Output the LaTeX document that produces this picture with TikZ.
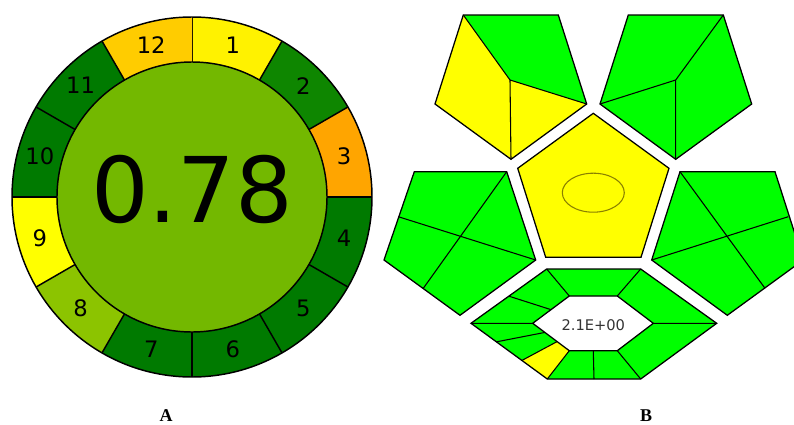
\documentclass[tikz,border=0pt]{standalone}
\usepackage{fontspec}
\setmainfont{Liberation Serif}
\newfontfamily\dejavu{DejaVu Sans}
\usetikzlibrary{calc}
\definecolor{segyel}{HTML}{FFF200}
\definecolor{segdkA}{HTML}{0E8600}
\definecolor{segdk}{HTML}{007A00}
\definecolor{segorg}{HTML}{FFA500}
\definecolor{seglime}{HTML}{8CC400}
\definecolor{segyel2}{HTML}{FFFF00}
\definecolor{seggold}{HTML}{FFCC00}
\definecolor{centgreen}{HTML}{73B800}
\definecolor{gapgreen}{HTML}{00FF00}
\definecolor{gapyel}{HTML}{FFFF00}
\definecolor{ellcol}{HTML}{8A8000}
\tikzset{
  segline/.style={draw=black,line width=1.1pt},
  seglabel/.style={font=\dejavu\fontsize{17}{17}\selectfont,inner sep=0pt},
  gapi/.style={draw=black,line width=0.95pt,line join=miter},
  gapidiv/.style={draw=black,line width=0.8pt},
  panel/.style={font=\bfseries\fontsize{13.5}{13.5}\selectfont,inner sep=0pt}
}
\begin{document}
\begin{tikzpicture}[x=0.75pt,y=-0.75pt]
\useasboundingbox (0,0) rectangle (794,425);
\begin{scope}
\clip (0,0) rectangle (794,425);
% ---------- Part A ----------
\coordinate (C) at (192,197);
\foreach \k/\col in {1/segyel,2/segdkA,3/segorg,4/segdk,5/segdk,6/segdk,7/segdk,8/seglime,9/segyel2,10/segdk,11/segdk,12/seggold}{
  \pgfmathsetmacro{\aone}{-90+30*(\k-1)}
  \pgfmathsetmacro{\atwo}{-90+30*\k}
  \pgfmathsetmacro{\amid}{-90+30*\k-15}
  \fill[\col] ($(C)+(\aone:180)$) arc[start angle=\aone,end angle=\atwo,radius=180]
     -- ($(C)+(\atwo:135)$) arc[start angle=\atwo,end angle=\aone,radius=135] -- cycle;
  \draw[segline] ($(C)+(\aone:135)$) -- ($(C)+(\aone:180)$);
  \node[seglabel] (lab\k) at ($(C)+(\amid:157.5)$) {\k};
}
\draw[segline] (C) circle[radius=180];
\draw[segline,fill=centgreen] (C) circle[radius=135];
\node[font=\dejavu\fontsize{68}{68}\selectfont,inner sep=0pt] (score) at (192,189) {0.78};

% ---------- Part B ----------
% top-left pentagon
\coordinate (a1) at (463.3,15); \coordinate (a2) at (558.3,15);
\coordinate (a3) at (586.7,104); \coordinate (a4) at (511,159.3);
\coordinate (a5) at (435,104); \coordinate (ai) at (510,80);
\fill[gapgreen] (a1) -- (a2) -- (a3) -- (ai) -- cycle;
\fill[gapyel] (a1) -- (ai) -- (a4) -- (a5) -- cycle;
\fill[gapyel] (ai) -- (a3) -- (a4) -- cycle;
\draw[gapidiv] (a1) -- (ai) -- (a3) (ai) -- (a4);
\draw[gapi] (a1) -- (a2) -- (a3) -- (a4) -- (a5) -- cycle;
% top-right pentagon
\coordinate (b1) at (628.3,15); \coordinate (b2) at (723.3,15);
\coordinate (b3) at (751.7,104); \coordinate (b4) at (675.7,159.3);
\coordinate (b5) at (600,104); \coordinate (bi) at (675.7,80);
\fill[gapgreen] (b1) -- (b2) -- (b3) -- (b4) -- (b5) -- cycle;
\draw[gapidiv] (b2) -- (bi) -- (b5) (bi) -- (b4);
\draw[gapi] (b1) -- (b2) -- (b3) -- (b4) -- (b5) -- cycle;
% centre pentagon
\coordinate (c1) at (593.3,113.3); \coordinate (c2) at (669,168.3);
\coordinate (c3) at (641,257.3); \coordinate (c4) at (545.7,257.3);
\coordinate (c5) at (517.7,168.3);
\draw[gapi,fill=gapyel] (c1) -- (c2) -- (c3) -- (c4) -- (c5) -- cycle;
\draw[ellcol,line width=0.8pt] (593.3,192.7) ellipse[x radius=31,y radius=19.5];
% left-middle pentagon
\coordinate (d1) at (414.3,171.7); \coordinate (d2) at (506.7,171.7);
\coordinate (d3) at (535.7,260); \coordinate (d4) at (460,315.3);
\coordinate (d5) at (384,260);
\fill[gapgreen] (d1) -- (d2) -- (d3) -- (d4) -- (d5) -- cycle;
\draw[gapidiv] (d2) -- (423.3,288.3) (398.3,216.7) -- (d3);
\draw[gapi] (d1) -- (d2) -- (d3) -- (d4) -- (d5) -- cycle;
% right-middle pentagon
\coordinate (e1) at (680,171.7); \coordinate (e2) at (775,171.7);
\coordinate (e3) at (803.3,260); \coordinate (e4) at (727.3,315.3);
\coordinate (e5) at (651.7,260);
\fill[gapgreen] (e1) -- (e2) -- (e3) -- (e4) -- (e5) -- cycle;
\draw[gapidiv] (e1) -- (765,288.3) (e5) -- (788.3,216.7);
\draw[gapi] (e1) -- (e2) -- (e3) -- (e4) -- (e5) -- cycle;
% bottom hexagon
\coordinate (o1) at (546.7,269); \coordinate (o2) at (640.7,269);
\coordinate (o3) at (716.7,323.3); \coordinate (o4) at (640.7,379);
\coordinate (o5) at (547.3,379); \coordinate (o6) at (471,323.3);
\coordinate (i1) at (569.3,296); \coordinate (i2) at (617.3,296);
\coordinate (i3) at (653.3,323.3); \coordinate (i4) at (617.3,350.7);
\coordinate (i5) at (569.3,350.7); \coordinate (i6) at (532.7,323.3);
\fill[gapgreen,even odd rule] (o1) -- (o2) -- (o3) -- (o4) -- (o5) -- (o6) -- cycle
   (i1) -- (i2) -- (i3) -- (i4) -- (i5) -- (i6) -- cycle;
\fill[gapyel] ($(o6)!0.667!(o5)$) -- ($(i6)!0.667!(i5)$) -- (i5) -- (o5) -- cycle;
\draw[gapidiv] (o1) -- (i1) (o2) -- (i2) (o3) -- (i3) (o4) -- (i4) (o5) -- (i5) (o6) -- (i6)
   ($(o4)!0.5!(o5)$) -- ($(i4)!0.5!(i5)$)
   ($(o6)!0.5!(o1)$) -- ($(i6)!0.5!(i1)$)
   ($(o6)!0.333!(o5)$) -- ($(i6)!0.333!(i5)$)
   ($(o6)!0.667!(o5)$) -- ($(i6)!0.667!(i5)$);
\draw[gapi] (o1) -- (o2) -- (o3) -- (o4) -- (o5) -- (o6) -- cycle;
\draw[gapi] (i1) -- (i2) -- (i3) -- (i4) -- (i5) -- (i6) -- cycle;
\node[font=\dejavu\fontsize{11}{11}\selectfont,text=black!80,inner sep=0pt] (val) at (593.3,325) {2.1E+00};
\end{scope}
% panel labels
\node[panel] (pA) at (166,416) {A};
\node[panel] (pB) at (646,416) {B};
\end{tikzpicture}
\end{document}
